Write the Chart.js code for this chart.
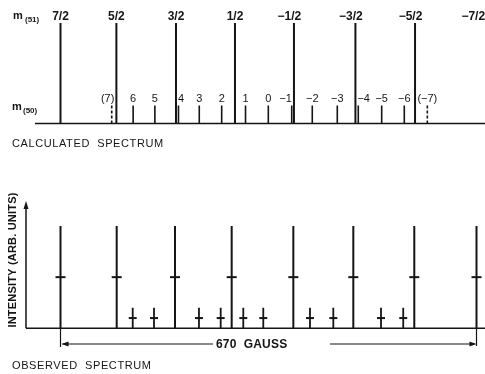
<!DOCTYPE html>
<html>
<head>
<meta charset="utf-8">
<script src="https://cdn.jsdelivr.net/npm/chart.js@4/dist/chart.umd.min.js"></script>
<style>
  html, body { margin: 0; padding: 0; background: #fff; }
  #wrap { position: relative; width: 485px; height: 374px; }
  canvas { position: absolute; left: 0; }
  #top { top: 0; }
  #bot { top: 150px; }
</style>
</head>
<body>
<div id="wrap">
  <canvas id="top" width="485" height="150"></canvas>
  <canvas id="bot" width="485" height="224"></canvas>
</div>
<script>
// ---------- DATA (field positions in gauss, relative to the m=7/2 line) ----------
const m51Labels = ['7/2', '5/2', '3/2', '1/2', '-1/2', '-3/2', '-5/2', '-7/2'];
const calcMainField = [0, 90, 186, 281, 376, 475, 571, 672];
const calcMainHeight = [1, 1, 1, 1, 1, 1, 1, 1];

const m50Labels = ['(7)', '6', '5', '4', '3', '2', '1', '0', '-1', '-2', '-3', '-4', '-5', '-6', '(-7)'];
const calcSatField = [82.5, 117, 152, 190, 223.5, 259.6, 298, 334.7, 372.4, 405.5, 445.8, 479.6, 517.3, 553.7, 590.8];
const calcSatHeight = [0.18, 0.18, 0.18, 0.18, 0.18, 0.18, 0.18, 0.18, 0.18, 0.18, 0.18, 0.18, 0.18, 0.18, 0.18];
const calcSatForbidden = [true, false, false, false, false, false, false, false, false, false, false, false, false, false, true];

const obsMainField = [0, 90.5, 184.4, 275.7, 375, 471.6, 569.8, 670];
const obsMainIntensity = [1, 1, 1, 1, 1, 1, 1, 1];
const obsSatField = [116.3, 150.6, 223, 258, 294.4, 326.6, 401.8, 439.4, 516.2, 552];
const obsSatIntensity = [0.2, 0.2, 0.2, 0.2, 0.2, 0.2, 0.2, 0.2, 0.2, 0.2];

const spanGauss = [0, 670];
const spanLabel = '670  GAUSS';

// ---------- helpers ----------
const INK = '#151515';
const FONT = '"Liberation Sans", Arial, Helvetica, sans-serif';
const MINUS = '\u2212';

function sticks(xs, hs, filter) {
  const out = [];
  xs.forEach((x, i) => {
    if (filter && !filter(i)) return;
    out.push({x: x, y: 0}, {x: x, y: hs[i]}, {x: x, y: null});
  });
  return out;
}

const xScale = { type: 'linear', min: 0, max: 670, display: false };
const yScale = { type: 'linear', min: 0, max: 1, display: false };

// ---------- TOP: calculated spectrum ----------
const topPlugin = {
  id: 'topDecor',
  afterDraw(chart) {
    const ctx = chart.ctx, xs = chart.scales.x, ys = chart.scales.y;
    const y0 = ys.getPixelForValue(0);
    ctx.save();
    ctx.strokeStyle = INK; ctx.lineWidth = 1.5;
    ctx.beginPath(); ctx.moveTo(35, y0); ctx.lineTo(485, y0); ctx.stroke();
    ctx.fillStyle = INK;
    ctx.textBaseline = 'alphabetic';
    // m(51) labels: centred on the fraction part
    ctx.font = 'bold 12px ' + FONT;
    const mw = ctx.measureText(MINUS).width;
    m51Labels.forEach((t, i) => {
      const px = xs.getPixelForValue(calcMainField[i]);
      const neg = t.startsWith('-');
      const txt = t.replace('-', MINUS);
      ctx.textAlign = 'center';
      ctx.fillText(txt, px - (neg ? mw / 2 + 1 : 0), 20);
    });
    // m(50) labels, nudged off the tall lines when they would overlap
    ctx.font = '11px ' + FONT;
    const tallPx = calcMainField.map(v => xs.getPixelForValue(v));
    m50Labels.forEach((t, i) => {
      const txt = t.replace('-', MINUS);
      const px = xs.getPixelForValue(calcSatField[i]);
      const w = ctx.measureText(txt).width;
      let left = px - w / 2;
      tallPx.forEach(tp => {
        if (tp > left - 1 && tp < left + w + 1) {
          left = tp > px ? tp - 2 - w : tp + 2;
        }
      });
      ctx.textAlign = 'left';
      ctx.fillText(txt, left, 102);
    });
    // m(51), m(50)
    ctx.textAlign = 'left';
    ctx.font = 'bold 11px ' + FONT; ctx.fillText('m', 13, 19);
    ctx.font = 'bold 8px ' + FONT; ctx.fillText('(51)', 25, 22);
    ctx.font = 'bold 11px ' + FONT; ctx.fillText('m', 12, 110);
    ctx.font = 'bold 8px ' + FONT; ctx.fillText('(50)', 23, 113);
    ctx.font = '11px ' + FONT;
    ctx.letterSpacing = '0.6px';
    ctx.fillText('CALCULATED  SPECTRUM', 12, 147);
    ctx.restore();
  }
};

new Chart(document.getElementById('top'), {
  type: 'scatter',
  data: {
    datasets: [
      { data: sticks(calcMainField, calcMainHeight), showLine: true, borderColor: INK, borderWidth: 2, pointRadius: 0, clip: false },
      { data: sticks(calcSatField, calcSatHeight, i => !calcSatForbidden[i]), showLine: true, borderColor: INK, borderWidth: 1.6, pointRadius: 0, clip: false },
      { data: sticks(calcSatField, calcSatHeight, i => calcSatForbidden[i]), showLine: true, borderColor: INK, borderWidth: 1.6, borderDash: [3, 2], pointRadius: 0, clip: false }
    ]
  },
  options: {
    responsive: false, devicePixelRatio: 1, animation: false,
    layout: { padding: { top: 23, bottom: 26.5, left: 60.5, right: 8.5 } },
    scales: { x: xScale, y: yScale },
    plugins: { legend: { display: false }, tooltip: { enabled: false } }
  },
  plugins: [topPlugin]
});

// ---------- BOTTOM: observed spectrum ----------
function arrowHead(ctx, x, y, dir) {
  ctx.beginPath();
  ctx.moveTo(x, y);
  ctx.lineTo(x - dir * 7, y - 2.5);
  ctx.lineTo(x - dir * 7, y + 2.5);
  ctx.closePath(); ctx.fill();
}

const botPlugin = {
  id: 'botDecor',
  afterDraw(chart) {
    const ctx = chart.ctx, xs = chart.scales.x, ys = chart.scales.y;
    const y0 = ys.getPixelForValue(0);
    ctx.save();
    ctx.strokeStyle = INK; ctx.fillStyle = INK; ctx.lineWidth = 1.5;
    // baseline + intensity axis
    ctx.beginPath(); ctx.moveTo(26, y0); ctx.lineTo(485, y0); ctx.stroke();
    ctx.beginPath(); ctx.moveTo(26, y0); ctx.lineTo(26, 56); ctx.stroke();
    ctx.beginPath(); ctx.moveTo(26, 51); ctx.lineTo(23.5, 59); ctx.lineTo(28.5, 59); ctx.closePath(); ctx.fill();
    // 670 gauss span
    const xa = xs.getPixelForValue(spanGauss[0]), xb = xs.getPixelForValue(spanGauss[1]);
    const ya = 194;
    ctx.lineWidth = 1.2;
    ctx.beginPath(); ctx.moveTo(xa, y0); ctx.lineTo(xa, ya + 3); ctx.stroke();
    ctx.beginPath(); ctx.moveTo(xb, y0); ctx.lineTo(xb, ya + 2); ctx.stroke();
    ctx.font = 'bold 12px ' + FONT;
    ctx.letterSpacing = '0.2px';
    const tx = 216;
    ctx.textAlign = 'left'; ctx.textBaseline = 'middle';
    ctx.fillText(spanLabel, tx, ya + 1);
    ctx.letterSpacing = '0px';
    ctx.beginPath(); ctx.moveTo(xa + 2, ya); ctx.lineTo(tx - 3, ya); ctx.stroke();
    ctx.beginPath(); ctx.moveTo(330, ya); ctx.lineTo(xb - 2, ya); ctx.stroke();
    arrowHead(ctx, xa + 1, ya, -1);
    arrowHead(ctx, xb, ya, 1);
    // titles
    ctx.textBaseline = 'alphabetic';
    ctx.font = '11px ' + FONT;
    ctx.letterSpacing = '0.6px';
    ctx.fillText('OBSERVED  SPECTRUM', 12, 219);
    ctx.save();
    ctx.translate(16, 110);
    ctx.rotate(-Math.PI / 2);
    ctx.textAlign = 'center';
    ctx.font = 'bold 11px ' + FONT;
    ctx.letterSpacing = '0.2px';
    ctx.fillText('INTENSITY (ARB. UNITS)', 0, 0);
    ctx.restore();
    ctx.restore();
  }
};

new Chart(document.getElementById('bot'), {
  type: 'scatter',
  data: {
    datasets: [
      { data: sticks(obsMainField, obsMainIntensity), showLine: true, borderColor: INK, borderWidth: 2, pointRadius: 0, clip: false },
      { data: sticks(obsSatField, obsSatIntensity), showLine: true, borderColor: INK, borderWidth: 1.8, pointRadius: 0, clip: false },
      { data: obsMainField.map((x, i) => ({x: x, y: obsMainIntensity[i] / 2})), showLine: false,
        pointStyle: 'line', pointRadius: 5, borderColor: INK, borderWidth: 2, clip: false },
      { data: obsSatField.map((x, i) => ({x: x, y: obsSatIntensity[i] / 2})), showLine: false,
        pointStyle: 'line', pointRadius: 4, borderColor: INK, borderWidth: 2, clip: false }
    ]
  },
  options: {
    responsive: false, devicePixelRatio: 1, animation: false,
    layout: { padding: { top: 76, bottom: 45.7, left: 60.5, right: 8.5 } },
    scales: { x: xScale, y: yScale },
    plugins: { legend: { display: false }, tooltip: { enabled: false } }
  },
  plugins: [botPlugin]
});
</script>
</body>
</html>
